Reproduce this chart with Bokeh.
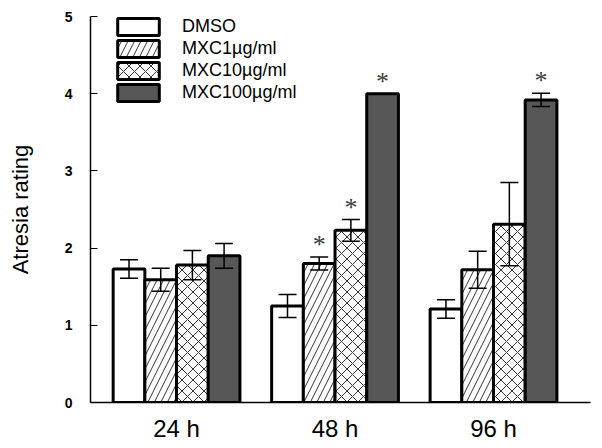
import numpy as np
from bokeh.plotting import figure
from bokeh.models import (Range1d, FixedTicker, ColumnDataSource, Whisker, TeeHead,
                          Legend, LegendItem)
from bokeh.embed import file_html
from bokeh.resources import INLINE

# ---- data ----
times = ["24 h", "48 h", "96 h"]
series = ["DMSO", "MXC1µg/ml", "MXC10µg/ml", "MXC100µg/ml"]
dmso = [1.73, 1.25, 1.21]
dmso_err = [0.12, 0.15, 0.12]
mxc1 = [1.59, 1.80, 1.72]
mxc1_err = [0.15, 0.085, 0.24]
mxc10 = [1.78, 2.23, 2.31]
mxc10_err = [0.19, 0.14, 0.54]
mxc100 = [1.90, 4.00, 3.92]
mxc100_err = [0.16, 0.0, 0.085]
dmso_sig = [False, False, False]
mxc1_sig = [False, True, False]
mxc10_sig = [False, True, False]
mxc100_sig = [False, True, True]
y_ticks = [0, 1, 2, 3, 4, 5]

values = [dmso, mxc1, mxc10, mxc100]
errors = [dmso_err, mxc1_err, mxc10_err, mxc100_err]
sigs = [dmso_sig, mxc1_sig, mxc10_sig, mxc100_sig]

# ---- styles ----
offsets = [-0.3, -0.1, 0.1, 0.3]
fills = ["white", "white", "white", "#575757"]
hatches = [" ", "/", "x", " "]
hscales = [12, 13, 11, 12]
FONT = "Liberation Sans"

p = figure(width=600, height=446, output_backend="svg", toolbar_location=None,
           x_range=Range1d(0.457, 3.612), y_range=Range1d(0, 5),
           min_border_left=90, min_border_right=10, min_border_top=16, min_border_bottom=44)
p.outline_line_color = None
p.xgrid.visible = False
p.ygrid.visible = False
p.background_fill_color = "white"

base = np.arange(len(times)) + 1
items = []
for i, name in enumerate(series):
    xs = base + offsets[i]
    src = ColumnDataSource(dict(x=xs, top=values[i]))
    r = p.vbar(x="x", top="top", width=0.2, source=src, fill_color=fills[i],
               line_color="black", line_width=3,
               hatch_pattern=hatches[i], hatch_color="black", hatch_weight=0.8,
               hatch_scale=hscales[i])
    items.append(LegendItem(label=name, renderers=[r]))

# error bars
for i in range(len(series)):
    xs, up, lo = [], [], []
    for j in range(len(times)):
        if errors[i][j] > 0:
            xs.append(base[j] + offsets[i])
            up.append(values[i][j] + errors[i][j])
            lo.append(values[i][j] - errors[i][j])
    wsrc = ColumnDataSource(dict(x=xs, upper=up, lower=lo))
    w = Whisker(source=wsrc, base="x", upper="upper", lower="lower",
                line_width=1.5, line_color="black",
                upper_head=TeeHead(size=18, line_width=1.5, line_color="black"),
                lower_head=TeeHead(size=18, line_width=1.5, line_color="black"))
    w.level = "annotation"
    p.add_layout(w)

# significance stars
sx, sy = [], []
for i in range(len(series)):
    for j in range(len(times)):
        if sigs[i][j]:
            sx.append(base[j] + offsets[i])
            sy.append(values[i][j] + errors[i][j] + 0.16)
p.text(x=sx, y=sy, text=["*"] * len(sx), text_font={"value": "Liberation Serif"},
       text_font_size="26px", text_color="#3a3a3a", text_align="center",
       text_baseline="middle")

legend = Legend(items=items, location=(22, 299), padding=0, margin=0, spacing=0,
                glyph_height=21, glyph_width=52, label_height=22, label_standoff=18,
                label_text_font=FONT, label_text_font_size="18px",
                label_text_color="black",
                border_line_alpha=0, background_fill_alpha=0)
p.add_layout(legend)

# axes
p.xaxis.ticker = FixedTicker(ticks=list(base))
p.xaxis.major_label_overrides = {int(b): t for b, t in zip(base, times)}
p.xaxis.major_tick_in = 0
p.xaxis.major_tick_out = 0
p.xaxis.minor_tick_line_color = None
p.xaxis.axis_line_width = 1.5
p.xaxis.major_label_text_font = FONT
p.xaxis.major_label_text_font_size = "24px"
p.xaxis.major_label_standoff = 12
p.xaxis.major_label_text_color = "black"

p.yaxis.ticker = FixedTicker(ticks=y_ticks)
p.yaxis.major_tick_in = 7
p.yaxis.major_tick_out = 0
p.yaxis.minor_tick_line_color = None
p.yaxis.axis_line_width = 1.5
p.yaxis.major_tick_line_width = 1.2
p.yaxis.major_label_text_font = FONT
p.yaxis.major_label_text_font_size = "14px"
p.yaxis.major_label_text_font_style = "bold"
p.yaxis.major_label_standoff = 18
p.yaxis.major_label_text_color = "black"
p.yaxis.axis_label = "Atresia rating"
p.yaxis.axis_label_text_font = FONT
p.yaxis.axis_label_text_font_size = "22px"
p.yaxis.axis_label_text_font_style = "normal"
p.yaxis.axis_label_standoff = 29
p.yaxis.axis_label_text_color = "black"

open("out.html", "w").write(file_html(p, INLINE))
